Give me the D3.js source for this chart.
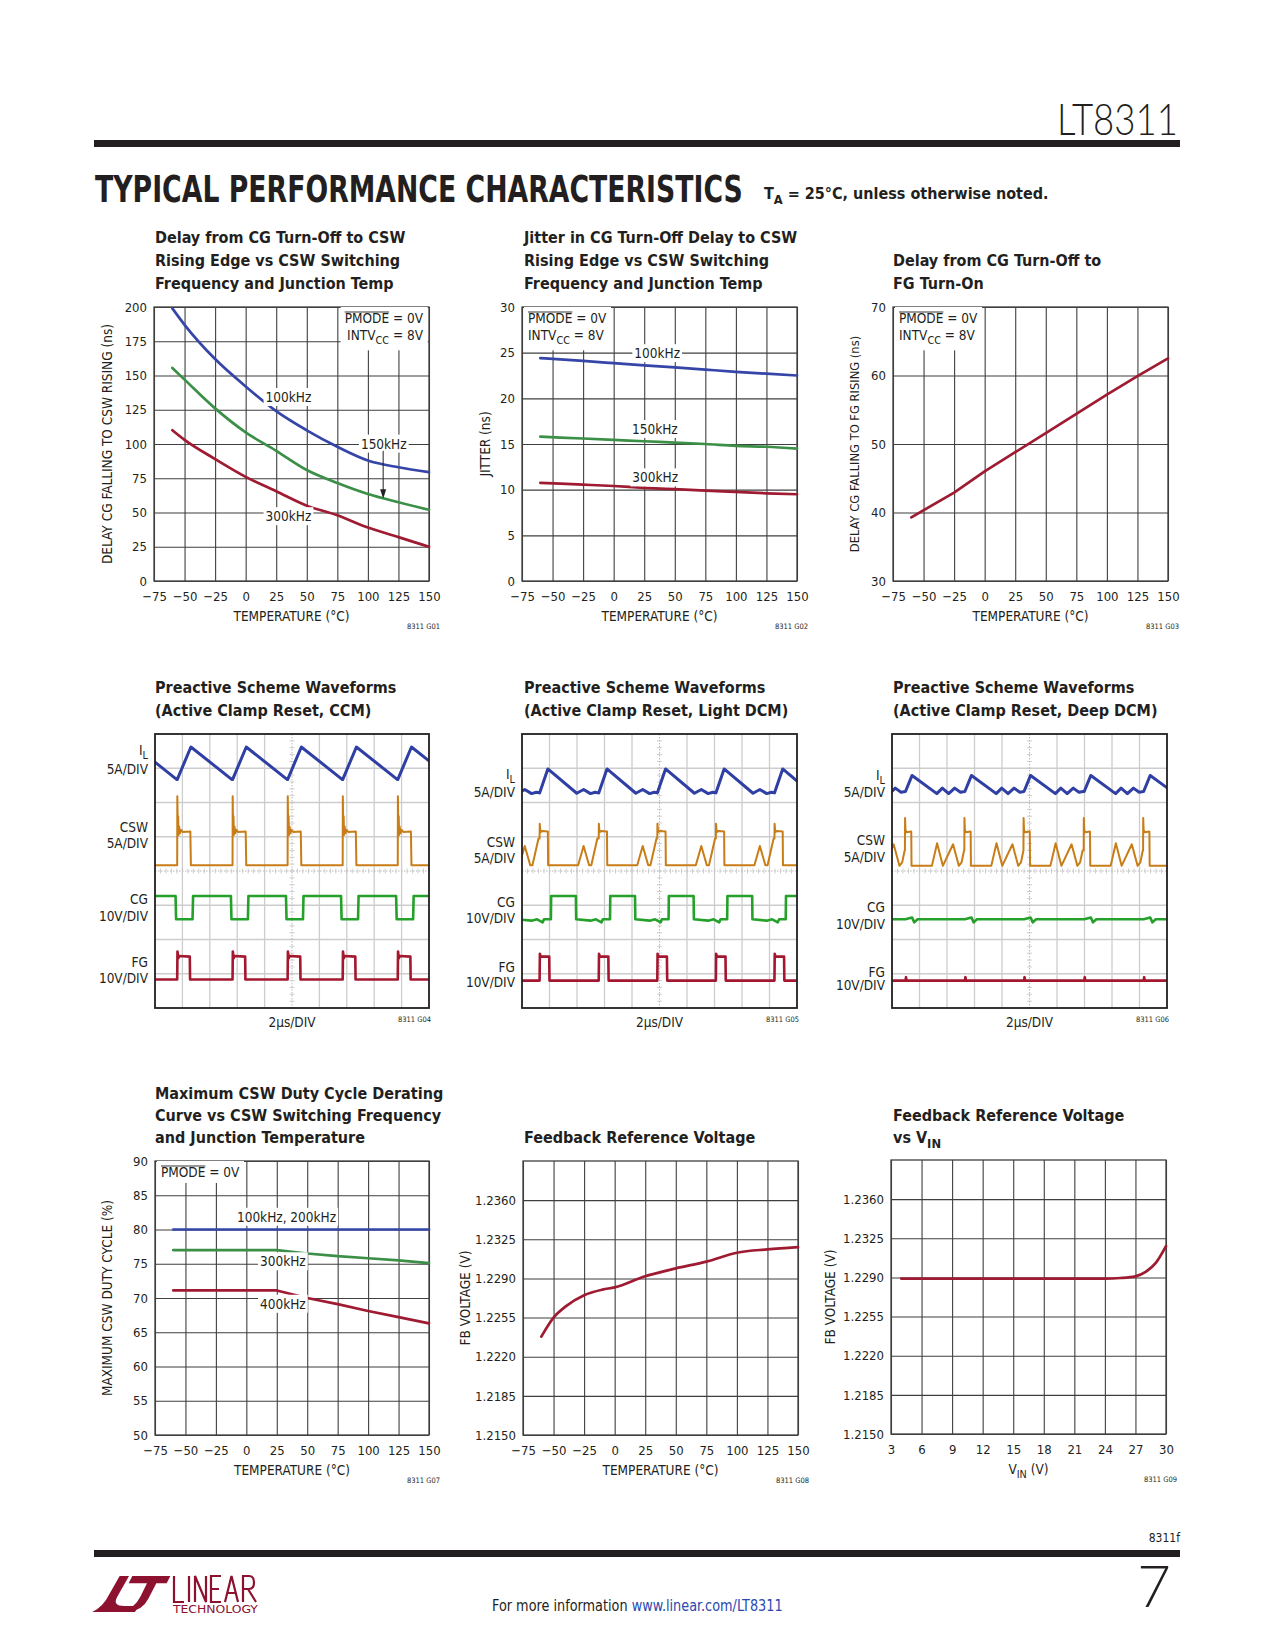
<!DOCTYPE html>
<html>
<head>
<meta charset="utf-8">
<script src="https://cdn.jsdelivr.net/npm/d3@7"></script>
<style>
body{margin:0;background:#fff;}
svg text{font-family:'Liberation Sans Narrow','Arial Narrow','DejaVu Sans Condensed',sans-serif;fill:#231f20;}
</style>
</head>
<body>
<svg id="page" width="1275" height="1650"></svg>
<script>
// ---- data ----
var tempTicks=[-75,-50,-25,0,25,50,75,100,125,150];

// G01 delay CG turn-off to CSW rising (ns)
var g01Ticks=[0,25,50,75,100,125,150,175,200];
var g01_100k=[[-60,199],[-50,187],[-25,162],[0,142],[25,124],[50,110],[75,98],[100,88],[125,83],[150,79.5]];
var g01_150k=[[-60,155.5],[-50,147],[-25,126],[0,108.5],[25,95],[50,81],[75,71.5],[100,63.5],[125,57.5],[150,52]];
var g01_300k=[[-60,110],[-50,103],[-25,89],[0,76],[25,65.5],[50,55],[75,48],[100,39],[125,32],[150,25]];

// G02 jitter (ns)
var g02Ticks=[0,5,10,15,20,25,30];
var g02_100k=[[-60,24.4],[-25,24.1],[0,23.85],[25,23.6],[50,23.4],[75,23.15],[100,22.9],[125,22.7],[150,22.5]];
var g02_150k=[[-60,15.8],[-25,15.6],[0,15.45],[25,15.3],[50,15.15],[75,15.0],[100,14.8],[125,14.7],[150,14.5]];
var g02_300k=[[-60,10.75],[-25,10.55],[0,10.4],[25,10.2],[50,10.05],[75,9.9],[100,9.75],[125,9.6],[150,9.5]];

// G03 delay CG falling to FG rising (ns)
var g03Ticks=[30,40,50,60,70];
var g03Delay=[[-60,39.3],[-25,42.9],[0,46.0],[25,48.8],[50,51.6],[75,54.4],[100,57.2],[125,59.9],[150,62.5]];

// G07 max CSW duty cycle (%)
var g07Ticks=[50,55,60,65,70,75,80,85,90];
var g07_100k=[[-60,80],[25,80],[150,80]];
var g07_300k=[[-60,77],[25,77],[50,76.5],[75,76.1],[100,75.8],[125,75.5],[150,75.1]];
var g07_400k=[[-60,71.1],[25,71.1],[50,70.0],[75,69.1],[100,68.1],[125,67.2],[150,66.3]];

// G08 / G09 feedback reference voltage (V)
var fbTicks=[1.2150,1.2185,1.2220,1.2255,1.2290,1.2325,1.2360];
var fbTop=1.2395;
var g08Fb=[[-60,1.2238],[-50,1.2255],[-40,1.2265],[-25,1.2275],[-10,1.2280],[0,1.2282],[25,1.2292],[50,1.2299],[75,1.2305],[100,1.2313],[125,1.2316],[150,1.2318]];
var vinTicks=[3,6,9,12,15,18,21,24,27,30];
var g09Fb=[[4,1.2289],[9,1.2289],[15,1.2289],[21,1.2289],[24,1.2289],[25.5,1.22895],[27,1.2291],[28,1.2295],[29,1.2303],[30,1.2318]];

// scope traces: x in divisions (0..10), y in divisions from top (0..8)
// each trace = one switching cycle, repeated at the cycle starts
var g04Starts=[-1.2,0.81,2.83,4.84,6.85,8.86];
var g04IL=[[0,1.33],[0.5,0.38],[2.0,1.33]];
var g04CSW=[[0,3.83],[0.005,1.82],[0.02,2.7],[0.035,2.4],[0.05,2.95],[0.07,2.7],[0.1,2.9],[0.14,2.8],[0.2,2.86],[0.48,2.85],[0.5,3.83],[1.98,3.83]];
var g04CG=[[-0.06,4.73],[-0.04,5.41],[0.56,5.41],[0.58,4.73],[1.94,4.73]];
var g04FG=[[0,7.17],[0.01,6.35],[0.04,6.55],[0.07,6.48],[0.46,6.5],[0.47,7.17],[1.99,7.17]];

var g05Starts=[-1.2,0.94,3.09,5.22,7.35,9.48];
var g05IL=[[-0.3,1.72],[0,1.02],[1.05,1.73],[1.3,1.62],[1.55,1.74],[1.72,1.70],[1.83,1.72]];
var g05CSW=[[-0.3,3.05],[-0.295,2.62],[-0.27,2.87],[-0.2,2.83],[0,2.85],[0.01,3.83],[1.1,3.83],[1.3,3.27],[1.5,3.83],[1.58,3.83],[1.8,3.05]];
var g05CG=[[0.11,5.41],[0.12,4.73],[1.02,4.73],[1.03,5.41],[1.55,5.45],[1.75,5.41],[1.95,5.5],[2.0,5.41]];
var g05FG=[[-0.3,7.2],[-0.29,6.42],[-0.26,6.5],[0.05,6.5],[0.06,7.2],[1.8,7.2]];

var g06Starts=[-1.43,0.73,2.89,5.04,7.23,9.39];
var g06IL=[[-0.24,1.68],[0,1.21],[0.9,1.74],[1.1,1.58],[1.33,1.74],[1.55,1.58],[1.76,1.7],[1.91,1.68]];
var g06CSW=[[-0.26,3.4],[-0.255,2.45],[-0.24,2.8],[-0.2,2.87],[-0.03,2.85],[-0.02,3.85],[0.72,3.85],[0.91,3.19],[1.12,3.85],[1.49,3.22],[1.7,3.85],[1.8,3.75],[1.89,3.4]];
var g06CG=[[-0.24,5.41],[0,5.36],[0.08,5.5],[0.2,5.41],[1.9,5.41]];
var g06FG=[[-0.24,7.2],[-0.22,7.1],[-0.2,7.2],[1.9,7.2]];

var ink='#231f20';
var gridColor='#3f3f3f';
var blue='#3545a8';
var green='#3b8f47';
var red='#9e1b32';
var lightFont="Lato,Roboto,'DejaVu Sans',sans-serif";

var svg=d3.select('#page');

function tempFmt(d){
  if(d<0){ return '\u2212'+Math.abs(d); }
  return d;
}

// text with subscripts, each part its own <text>: parts = [[text, isSub], ...]
function richText(g,x,y,parts,size,anchor,weight){
  var grp=g.append('g');
  var items=[];
  var total=0;
  parts.forEach(function(p){
    var t=grp.append('text')
      .attr('font-size',p[1]?size*0.8:size)
      .attr('font-weight',weight||'normal')
      .style('white-space','pre')
      .text(p[0]);
    items.push([t,total,p[1]]);
    total+=t.node().getComputedTextLength();
  });
  var start=x;
  if(anchor=='middle'){ start=x-total/2; }
  if(anchor=='end'){ start=x-total; }
  items.forEach(function(it){
    it[0].attr('x',start+it[1]).attr('y',it[2]?y+size*0.32:y);
  });
  return grp;
}

// squeeze a text to a given width (start anchored)
function fitText(t,x,y,width){
  var w=t.node().getComputedTextLength();
  t.attr('x',0).attr('y',0)
    .attr('transform','translate('+x+','+y+') scale('+(width/w)+',1)');
}

function whiteBehind(g,nodes,pad){
  var x0=1e9,y0=1e9,x1=-1e9,y1=-1e9;
  nodes.forEach(function(n){
    var b=n.node().getBBox();
    x0=Math.min(x0,b.x); y0=Math.min(y0,b.y);
    x1=Math.max(x1,b.x+b.width); y1=Math.max(y1,b.y+b.height);
  });
  g.insert('rect',function(){return nodes[0].node();})
    .attr('x',x0-pad).attr('y',y0-pad+1)
    .attr('width',x1-x0+2*pad).attr('height',y1-y0+2*pad-2)
    .attr('fill','#fff');
}

function title(lines,x,ys){
  lines.forEach(function(l,i){
    if(typeof l=='string'){ l=[[l,false]]; }
    richText(svg,x,ys[i],l,16,'start','bold');
  });
}

function xyChart(o){
  var g=svg.append('g');
  var x=d3.scaleLinear().domain(o.xDomain).range([o.left,o.right]);
  var y=d3.scaleLinear().domain(o.yDomain).range([o.bottom,o.top]);

  function gridStyle(s){
    s.select('.domain').remove();
    s.selectAll('line').attr('stroke',gridColor).attr('stroke-width',1.1);
  }
  g.append('g').attr('transform','translate(0,'+o.bottom+')')
    .call(d3.axisBottom(x).tickValues(o.xTicks).tickSize(-(o.bottom-o.top)).tickFormat(''))
    .call(gridStyle);
  g.append('g').attr('transform','translate('+o.left+',0)')
    .call(d3.axisLeft(y).tickValues(o.yGrid).tickSize(-(o.right-o.left)).tickFormat(''))
    .call(gridStyle);
  g.append('rect').attr('x',o.left).attr('y',o.top)
    .attr('width',o.right-o.left).attr('height',o.bottom-o.top)
    .attr('fill','none').attr('stroke',gridColor).attr('stroke-width',1.3);

  g.append('g').attr('transform','translate('+o.left+',0)')
    .call(d3.axisLeft(y).tickValues(o.yTicks).tickSize(0).tickPadding(7).tickFormat(o.yFormat))
    .call(function(s){ s.select('.domain').remove(); s.attr('font-size',13); });
  g.append('g').attr('transform','translate(0,'+o.bottom+')')
    .call(d3.axisBottom(x).tickValues(o.xTicks).tickSize(0).tickPadding(11).tickFormat(o.xFormat))
    .call(function(s){ s.select('.domain').remove(); s.attr('font-size',13); });

  g.append('text')
    .attr('transform','translate('+o.ylabelX+','+((o.top+o.bottom)/2)+') rotate(-90)')
    .attr('text-anchor','middle').attr('dy','0.35em')
    .attr('font-size',o.ylabelSize||13.5)
    .text(o.ylabel);
  richText(g,(o.left+o.right)/2,o.bottom+40,o.xlabel,13.5,'middle');
  g.append('text').attr('x',o.codeX).attr('y',o.bottom+48)
    .attr('text-anchor','end').attr('font-size',7.5).attr('fill','#444')
    .text(o.code);

  var chart={g:g,x:x,y:y,o:o};
  var line=d3.line().x(function(d){return x(d[0]);}).y(function(d){return y(d[1]);})
    .curve(o.curve||d3.curveMonotoneX);
  o.series.forEach(function(s){
    g.append('path').datum(s.d)
      .attr('d',line).attr('fill','none')
      .attr('stroke',s.c).attr('stroke-width',2.7)
      .attr('stroke-linecap','round').attr('stroke-linejoin','round');
  });
  return chart;
}

// curve label with white background, centred on a data position
function tag(c,vx,vy,txt){
  var t=c.g.append('text').attr('x',c.x(vx)).attr('y',c.y(vy)+4.6)
    .attr('text-anchor','middle').attr('font-size',13.5).text(txt);
  whiteBehind(c.g,[t],2);
}

// PMODE / INTVcc note in a corner
function pmodeNote(c,align,withIntv){
  var o=c.o;
  var px=(align=='end')?o.right-6:o.left+6;
  var ng=c.g.append('g');
  var t1=ng.append('text').attr('x',px).attr('y',o.top+16)
    .attr('text-anchor',align).attr('font-size',13.5).text('PMODE = 0V');
  var nodes=[t1];
  if(withIntv){
    nodes.push(richText(ng,px,o.top+33,[['INTV',false],['CC',true],[' = 8V',false]],13.5,align));
  }
  whiteBehind(ng,nodes,4);
  var b=t1.node().getBBox();
  var w=t1.node().getSubStringLength(0,5);
  ng.append('line').attr('x1',b.x).attr('x2',b.x+w)
    .attr('y1',b.y+2).attr('y2',b.y+2)
    .attr('stroke',ink).attr('stroke-width',0.9);
}

// oscilloscope panel
function scope(o){
  var g=svg.append('g');
  var x=d3.scaleLinear().domain([0,10]).range([o.left,o.right]);
  var y=d3.scaleLinear().domain([0,8]).range([o.top,o.bottom]);
  var vdiv=[1,2,3,4,6,7,8,9];
  var hdiv=[1,2,3,5,6,7];
  g.selectAll('.sv').data(vdiv).enter().append('line')
    .attr('x1',function(d){return x(d);}).attr('x2',function(d){return x(d);})
    .attr('y1',o.top).attr('y2',o.bottom)
    .attr('stroke','#cdcdcd').attr('stroke-width',1.3);
  g.selectAll('.sh').data(hdiv).enter().append('line')
    .attr('x1',o.left).attr('x2',o.right)
    .attr('y1',function(d){return y(d);}).attr('y2',function(d){return y(d);})
    .attr('stroke','#cdcdcd').attr('stroke-width',1.3);
  // centre cross with minor ticks
  g.append('line').attr('x1',x(5)).attr('x2',x(5)).attr('y1',o.top).attr('y2',o.bottom)
    .attr('stroke','#b8b8b8').attr('stroke-width',1).attr('stroke-dasharray','1.5,1.5');
  g.append('line').attr('x1',o.left).attr('x2',o.right).attr('y1',y(4)).attr('y2',y(4))
    .attr('stroke','#b8b8b8').attr('stroke-width',1).attr('stroke-dasharray','1.5,1.5');
  var minorX=d3.range(0,10.01,0.2);
  var minorY=d3.range(0,8.01,0.2);
  g.selectAll('.mx').data(minorX).enter().append('line')
    .attr('x1',function(d){return x(d);}).attr('x2',function(d){return x(d);})
    .attr('y1',y(4)-2.5).attr('y2',y(4)+2.5)
    .attr('stroke','#c4c4c4').attr('stroke-width',0.8);
  g.selectAll('.my').data(minorY).enter().append('line')
    .attr('y1',function(d){return y(d);}).attr('y2',function(d){return y(d);})
    .attr('x1',x(5)-2.5).attr('x2',x(5)+2.5)
    .attr('stroke','#c4c4c4').attr('stroke-width',0.8);

  var clipId='clip'+o.code.replace(/\s/g,'');
  svg.append('clipPath').attr('id',clipId).append('rect')
    .attr('x',o.left).attr('y',o.top).attr('width',o.right-o.left).attr('height',o.bottom-o.top);
  var tr=g.append('g').attr('clip-path','url(#'+clipId+')');
  var line=d3.line().x(function(d){return x(d[0]);}).y(function(d){return y(d[1]);});
  o.traces.forEach(function(t){
    var pts=[];
    o.starts.forEach(function(s){
      t.shape.forEach(function(p){ pts.push([s+p[0],p[1]]); });
    });
    tr.append('path').datum(pts).attr('d',line).attr('fill','none')
      .attr('stroke',t.c).attr('stroke-width',t.w)
      .attr('stroke-linejoin','round');
  });

  g.append('rect').attr('x',o.left).attr('y',o.top)
    .attr('width',o.right-o.left).attr('height',o.bottom-o.top)
    .attr('fill','none').attr('stroke',ink).attr('stroke-width',1.8);

  o.labels.forEach(function(l){
    richText(g,o.left-7,l[1],l[0],13.5,'end');
  });
  g.append('text').attr('x',(o.left+o.right)/2).attr('y',o.bottom+19)
    .attr('text-anchor','middle').attr('font-size',13.5).text('2\u00b5s/DIV');
  g.append('text').attr('x',o.right+2).attr('y',o.bottom+14)
    .attr('text-anchor','end').attr('font-size',7.5).attr('fill','#444').text(o.code);
}

// ---------- page header ----------
var part=svg.append('text').attr('font-size',44).attr('font-weight',300)
  .style('font-family',lightFont).text('LT8311');
fitText(part,1057,135,121);
svg.append('rect').attr('x',94).attr('y',140).attr('width',1086).attr('height',7).attr('fill',ink);
var head=svg.append('text').attr('font-size',38)
  .attr('font-weight','bold').style('font-family',"'DejaVu Sans',sans-serif")
  .text('TYPICAL PERFORMANCE CHARACTERISTICS');
fitText(head,95,202,648);
richText(svg,764,199,[['T',false],['A',true],[' = 25\u00b0C, unless otherwise noted.',false]],16,'start','bold');

// ---------- row 1 ----------
var c1=xyChart({left:154,right:429,top:307,bottom:581,xDomain:[-75,150],yDomain:[0,200],
  xTicks:tempTicks,yTicks:g01Ticks,yGrid:g01Ticks,xFormat:tempFmt,yFormat:d3.format('d'),
  series:[{d:g01_100k,c:blue},{d:g01_150k,c:green},{d:g01_300k,c:red}],
  ylabel:'DELAY CG FALLING TO CSW RISING (ns)',ylabelX:107,
  xlabel:[['TEMPERATURE (\u00b0C)',false]],code:'8311 G01',codeX:440});
title(['Delay from CG Turn-Off to CSW','Rising Edge vs CSW Switching','Frequency and Junction Temp'],155,[243,266,289]);
pmodeNote(c1,'end',true);
tag(c1,35,134,'100kHz');
tag(c1,113,100,'150kHz');
tag(c1,35,47,'300kHz');
c1.g.append('line').attr('x1',c1.x(112.5)).attr('x2',c1.x(112.5))
  .attr('y1',c1.y(95)).attr('y2',c1.y(66)).attr('stroke',ink).attr('stroke-width',1);
c1.g.append('path')
  .attr('d','M'+(c1.x(112.5)-3)+','+c1.y(67)+'L'+(c1.x(112.5)+3)+','+c1.y(67)+'L'+c1.x(112.5)+','+c1.y(60)+'Z')
  .attr('fill',ink);

var c2=xyChart({left:522,right:797,top:307,bottom:581,xDomain:[-75,150],yDomain:[0,30],
  xTicks:tempTicks,yTicks:g02Ticks,yGrid:g02Ticks,xFormat:tempFmt,yFormat:d3.format('d'),
  series:[{d:g02_100k,c:blue},{d:g02_150k,c:green},{d:g02_300k,c:red}],
  ylabel:'JITTER (ns)',ylabelX:485,
  xlabel:[['TEMPERATURE (\u00b0C)',false]],code:'8311 G02',codeX:808});
title(['Jitter in CG Turn-Off Delay to CSW','Rising Edge vs CSW Switching','Frequency and Junction Temp'],524,[243,266,289]);
pmodeNote(c2,'start',true);
tag(c2,35.6,24.9,'100kHz');
tag(c2,33.7,16.6,'150kHz');
tag(c2,34,11.3,'300kHz');

var c3=xyChart({left:893,right:1168,top:307,bottom:581,xDomain:[-75,150],yDomain:[30,70],
  xTicks:tempTicks,yTicks:g03Ticks,yGrid:g03Ticks,xFormat:tempFmt,yFormat:d3.format('d'),
  series:[{d:g03Delay,c:red}],curve:d3.curveLinear,
  ylabel:'DELAY CG FALLING TO FG RISING (ns)',ylabelX:855,ylabelSize:12.8,
  xlabel:[['TEMPERATURE (\u00b0C)',false]],code:'8311 G03',codeX:1179});
title(['Delay from CG Turn-Off to','FG Turn-On'],893,[266,289]);
pmodeNote(c3,'start',true);

// ---------- row 2 : scope shots ----------
scope({left:155,right:429,top:734,bottom:1008,code:'8311 G04',starts:g04Starts,
  traces:[{shape:g04IL,c:'#2f3fa3',w:3},{shape:g04CSW,c:'#c97d17',w:2},{shape:g04CG,c:'#25a12b',w:2.6},{shape:g04FG,c:'#a3172f',w:2.6}],
  labels:[[[['I',false],['L',true]],755],[[['5A/DIV',false]],774],[[['CSW',false]],832],[[['5A/DIV',false]],848],
          [[['CG',false]],904],[[['10V/DIV',false]],921],[[['FG',false]],967],[[['10V/DIV',false]],983]]});
title(['Preactive Scheme Waveforms','(Active Clamp Reset, CCM)'],155,[693,716]);

scope({left:522,right:797,top:734,bottom:1008,code:'8311 G05',starts:g05Starts,
  traces:[{shape:g05IL,c:'#2f3fa3',w:3},{shape:g05CSW,c:'#c97d17',w:2},{shape:g05CG,c:'#25a12b',w:2.6},{shape:g05FG,c:'#a3172f',w:2.6}],
  labels:[[[['I',false],['L',true]],779],[[['5A/DIV',false]],797],[[['CSW',false]],847],[[['5A/DIV',false]],863],
          [[['CG',false]],907],[[['10V/DIV',false]],923],[[['FG',false]],972],[[['10V/DIV',false]],987]]});
title(['Preactive Scheme Waveforms','(Active Clamp Reset, Light DCM)'],524,[693,716]);

scope({left:892,right:1167,top:734,bottom:1008,code:'8311 G06',starts:g06Starts,
  traces:[{shape:g06IL,c:'#2f3fa3',w:3},{shape:g06CSW,c:'#c97d17',w:2},{shape:g06CG,c:'#25a12b',w:2.6},{shape:g06FG,c:'#a3172f',w:2.6}],
  labels:[[[['I',false],['L',true]],780],[[['5A/DIV',false]],797],[[['CSW',false]],845],[[['5A/DIV',false]],862],
          [[['CG',false]],912],[[['10V/DIV',false]],929],[[['FG',false]],977],[[['10V/DIV',false]],990]]});
title(['Preactive Scheme Waveforms','(Active Clamp Reset, Deep DCM)'],893,[693,716]);

// ---------- row 3 ----------
var c7=xyChart({left:155,right:429,top:1161,bottom:1435,xDomain:[-75,150],yDomain:[50,90],
  xTicks:tempTicks,yTicks:g07Ticks,yGrid:g07Ticks,xFormat:tempFmt,yFormat:d3.format('d'),
  series:[{d:g07_100k,c:blue},{d:g07_300k,c:green},{d:g07_400k,c:red}],curve:d3.curveLinear,
  ylabel:'MAXIMUM CSW DUTY CYCLE (%)',ylabelX:107,
  xlabel:[['TEMPERATURE (\u00b0C)',false]],code:'8311 G07',codeX:440});
title(['Maximum CSW Duty Cycle Derating','Curve vs CSW Switching Frequency','and Junction Temperature'],155,[1099,1121,1143]);
pmodeNote(c7,'start',false);
tag(c7,33,81.8,'100kHz, 200kHz');
tag(c7,30,75.3,'300kHz');
tag(c7,30,69.1,'400kHz');

var c8=xyChart({left:523,right:798,top:1161,bottom:1435,xDomain:[-75,150],yDomain:[1.2150,fbTop],
  xTicks:tempTicks,yTicks:fbTicks,yGrid:fbTicks,xFormat:tempFmt,yFormat:d3.format('.4f'),
  series:[{d:g08Fb,c:red}],
  ylabel:'FB VOLTAGE (V)',ylabelX:465,
  xlabel:[['TEMPERATURE (\u00b0C)',false]],code:'8311 G08',codeX:809});
title(['Feedback Reference Voltage'],524,[1143]);

var c9=xyChart({left:891,right:1166,top:1160,bottom:1434,xDomain:[3,30],yDomain:[1.2150,fbTop],
  xTicks:vinTicks,yTicks:fbTicks,yGrid:fbTicks,xFormat:d3.format('d'),yFormat:d3.format('.4f'),
  series:[{d:g09Fb,c:red}],
  ylabel:'FB VOLTAGE (V)',ylabelX:830,
  xlabel:[['V',false],['IN',true],[' (V)',false]],code:'8311 G09',codeX:1177});
title(['Feedback Reference Voltage',[['vs V',false],['IN',true]]],893,[1121,1143]);

// ---------- footer ----------
svg.append('text').attr('x',1180).attr('y',1542).attr('text-anchor','end')
  .attr('font-size',12).text('8311f');
svg.append('rect').attr('x',94).attr('y',1550).attr('width',1086).attr('height',7).attr('fill',ink);
svg.append('text').attr('x',1171).attr('y',1607).attr('text-anchor','end')
  .attr('font-size',58).attr('font-weight',300).style('font-family',lightFont).text('7');
var info=svg.append('text').attr('font-size',16);
info.append('tspan').text('For more information ');
info.append('tspan').style('fill','#2a49b0').text('www.linear.com/LT8311');
fitText(info,492,1611,291);

// company logo: swoosh mark + thin stroked "LINEAR" lettering
var maroon='#8c1230';
var logo=svg.append('g').attr('transform','translate(85,1500) scale(0.3333)');
logo.append('path')
  .attr('d','M104,228 L132,228 L96,292 Q82,318 118,318 L160,318 L150,336 L22,336 Q56,318 72,284 Z')
  .attr('fill',maroon);
logo.append('path')
  .attr('d','M142,228 L256,228 L245,250 L214,250 L190,296 Q172,332 128,336 L112,336 Q150,322 166,290 L186,250 L131,250 Z')
  .attr('fill',maroon);
var lx=174, lt=1576, lb=1602, lm=1589;
var word=svg.append('g').attr('fill','none').attr('stroke',maroon).attr('stroke-width',2.2);
word.append('path').attr('d','M'+lx+','+lt+'V'+lb+'H'+(lx+10));
word.append('path').attr('d','M'+(lx+15)+','+lt+'V'+lb);
word.append('path').attr('d','M'+(lx+21)+','+lb+'V'+lt+'L'+(lx+32)+','+lb+'V'+lt);
word.append('path').attr('d','M'+(lx+47)+','+lt+'H'+(lx+37)+'V'+lb+'H'+(lx+47)+'M'+(lx+37)+','+lm+'H'+(lx+45));
word.append('path').attr('d','M'+(lx+51)+','+lb+'L'+(lx+57.5)+','+lt+'L'+(lx+64)+','+lb+'M'+(lx+53.5)+','+(lm+4)+'H'+(lx+61.5));
word.append('path').attr('d','M'+(lx+69)+','+lb+'V'+lt+'H'+(lx+75)+'Q'+(lx+80)+','+lt+' '+(lx+80)+','+(lt+6.5)
  +'Q'+(lx+80)+','+lm+' '+(lx+75)+','+lm+'H'+(lx+69)+'M'+(lx+74)+','+lm+'L'+(lx+82)+','+lb);
var tech=svg.append('text').attr('font-size',10).style('fill',maroon).text('TECHNOLOGY');
fitText(tech,173,1613,85);
</script>
</body>
</html>
